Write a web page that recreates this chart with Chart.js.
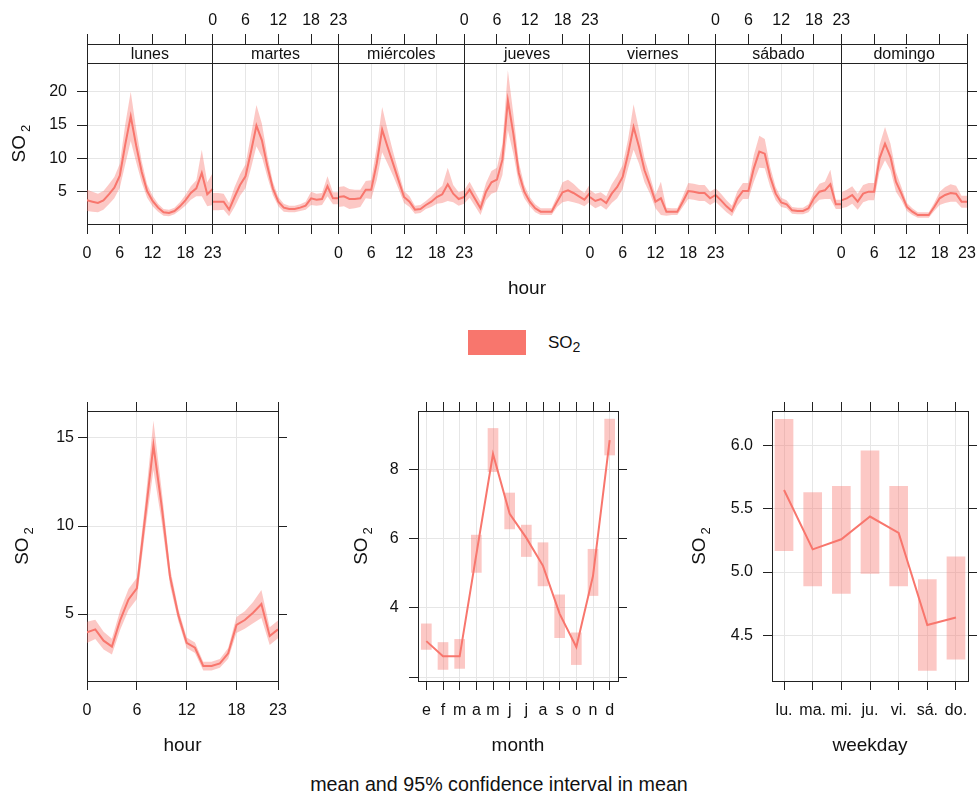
<!DOCTYPE html>
<html lang="es">
<head>
<meta charset="utf-8">
<script src="https://cdn.jsdelivr.net/npm/chart.js@4.4.1/dist/chart.umd.min.js"></script>
<style>
    body { margin: 0; background: #fff; width: 978px; height: 794px; position: relative; overflow: hidden;
           font-family: 'Liberation Sans', Arial, sans-serif; color: #111; }
    canvas { position: absolute; }
    #leyenda-caja { position: absolute; left: 468px; top: 330px; width: 58px; height: 25px; background: #F8766D; }
    #leyenda-texto { position: absolute; left: 548px; top: 330px; height: 25px; line-height: 25px; font-size: 17px; }
    #pie { position: absolute; left: 0; width: 998px; top: 773px; text-align: center; font-size: 19.7px; }
</style>
</head>
<body>
<canvas id="grafico-semana" width="978" height="310" style="left:0;top:0"></canvas>
<div id="leyenda-caja"></div>
<div id="leyenda-texto">SO<sub>2</sub></div>
<canvas id="grafico-hora" width="300" height="370" style="left:0;top:390px"></canvas>
<canvas id="grafico-mes" width="320" height="370" style="left:330px;top:390px"></canvas>
<canvas id="grafico-dia" width="308" height="370" style="left:670px;top:390px"></canvas>
<div id="pie">mean and 95% confidence interval in mean</div>

<script>
// valores (media y semiancho del IC 95%)
const dias = ['lunes', 'martes', 'miércoles', 'jueves', 'viernes', 'sábado', 'domingo'];
const horas = [0, 1, 2, 3, 4, 5, 6, 7, 8, 9, 10, 11, 12, 13, 14, 15, 16, 17, 18, 19, 20, 21, 22, 23];
const marcasHora = [0, 6, 12, 18, 23];

const lunesMedia = [3.7, 3.5, 3.3, 3.7, 4.6, 5.6, 7.4, 12.1, 16.3, 11.9, 8.0, 5.1, 3.6, 2.6, 1.9, 1.8, 2.1, 2.8, 3.7, 4.8, 5.5, 7.8, 4.6, 5.4];
const lunesIC = [1.6, 1.5, 1.4, 1.4, 1.5, 1.6, 1.8, 3.0, 3.7, 2.5, 1.6, 1.0, 0.8, 0.6, 0.5, 0.5, 0.5, 0.6, 0.8, 1.0, 1.2, 3.5, 1.8, 2.4];
const martesMedia = [3.5, 3.5, 3.5, 2.3, 4.2, 6.0, 7.3, 11.0, 14.9, 12.7, 8.8, 5.5, 3.5, 2.6, 2.4, 2.4, 2.6, 2.9, 4.0, 3.8, 3.9, 5.8, 4.0, 4.0];
const martesIC = [1.3, 1.3, 1.2, 1.0, 1.5, 1.6, 1.8, 2.5, 3.1, 2.5, 1.6, 1.0, 0.7, 0.6, 0.5, 0.5, 0.5, 0.6, 1.0, 0.9, 0.9, 1.5, 0.9, 0.9];
const miercolesMedia = [4.2, 4.3, 3.9, 3.9, 4.0, 5.3, 5.3, 9.2, 14.3, 11.7, 9.2, 6.7, 4.2, 3.5, 2.3, 2.4, 3.0, 3.5, 4.2, 4.6, 6.1, 4.7, 3.9, 4.2];
const miercolesIC = [1.5, 1.5, 1.5, 1.4, 1.3, 1.3, 1.4, 2.5, 3.4, 2.5, 1.8, 1.3, 0.9, 0.8, 0.6, 0.6, 0.6, 0.8, 1.0, 1.3, 2.5, 1.3, 1.0, 1.0];
const juevesMedia = [4.2, 5.3, 3.9, 2.5, 5.0, 6.4, 6.8, 9.8, 18.7, 13.7, 7.8, 5.0, 3.5, 2.5, 2.0, 2.0, 2.0, 3.5, 4.9, 5.2, 4.8, 4.3, 3.8, 4.8];
const juevesIC = [1.0, 1.2, 1.1, 1.0, 1.3, 1.7, 1.8, 2.3, 4.5, 3.0, 1.6, 1.0, 0.7, 0.6, 0.5, 0.5, 0.5, 0.8, 1.5, 1.6, 1.4, 1.1, 1.0, 1.3];
const viernesMedia = [4.2, 3.6, 3.9, 3.3, 4.7, 5.7, 7.2, 10.7, 14.7, 11.7, 8.2, 6.0, 3.5, 4.0, 2.0, 2.0, 2.0, 3.5, 5.1, 5.0, 4.8, 4.8, 4.0, 4.5];
const viernesIC = [1.1, 1.1, 1.0, 1.0, 1.4, 1.7, 1.8, 2.2, 3.4, 2.5, 1.8, 1.3, 1.0, 2.5, 0.6, 0.5, 0.5, 0.8, 1.2, 1.2, 1.2, 1.2, 1.0, 1.0];
const sabadoMedia = [4.5, 3.7, 2.8, 2.1, 4.0, 5.1, 5.1, 8.5, 11.0, 10.7, 7.2, 4.7, 3.4, 3.1, 2.2, 2.1, 2.1, 2.5, 4.0, 5.0, 5.2, 6.1, 3.1, 3.1];
const sabadoIC = [1.0, 1.0, 0.9, 0.8, 1.1, 1.2, 1.2, 2.0, 2.4, 2.2, 1.5, 1.0, 0.7, 0.6, 0.5, 0.5, 0.5, 0.6, 1.0, 1.2, 1.3, 2.2, 0.7, 0.7];
const domingoMedia = [3.7, 4.0, 4.5, 3.5, 4.7, 5.0, 5.0, 10.0, 12.2, 10.2, 6.5, 4.7, 2.7, 2.0, 1.5, 1.5, 1.5, 2.7, 4.0, 4.5, 4.8, 4.7, 3.5, 3.5];
const domingoIC = [1.2, 1.3, 1.3, 1.2, 1.3, 1.3, 1.3, 2.0, 2.5, 2.0, 1.5, 1.0, 0.6, 0.5, 0.4, 0.4, 0.4, 0.6, 1.0, 1.2, 1.3, 1.2, 0.9, 0.9];

const horaMedia = [3.96, 4.13, 3.49, 3.15, 4.66, 5.83, 6.46, 10.5, 14.58, 11.1, 7.12, 4.94, 3.37, 3.09, 2.05, 2.05, 2.2, 2.77, 4.38, 4.66, 5.08, 5.57, 3.75, 4.13];
const horaIC = [0.6, 0.55, 0.5, 0.45, 0.55, 0.6, 0.6, 0.8, 1.4, 0.9, 0.5, 0.35, 0.3, 0.3, 0.25, 0.25, 0.25, 0.3, 0.45, 0.5, 0.6, 0.8, 0.5, 0.5];

const meses = ['e', 'f', 'm', 'a', 'm', 'j', 'j', 'a', 's', 'o', 'n', 'd'];
const mesMedia = [3.04, 2.6, 2.6, 5.55, 8.46, 6.73, 6.03, 5.22, 3.83, 2.87, 4.93, 8.86];
const mesBajo = [2.80, 2.22, 2.25, 5.03, 7.95, 6.29, 5.49, 4.64, 3.14, 2.36, 4.36, 8.43];
const mesAlto = [3.54, 3.00, 3.09, 6.11, 9.20, 7.33, 6.40, 5.89, 4.38, 3.28, 5.70, 9.47];

const diasCortos = ['lu.', 'ma.', 'mi.', 'ju.', 'vi.', 'sá.', 'do.'];
const diaMedia = [5.65, 5.18, 5.26, 5.44, 5.31, 4.58, 4.64];
const diaBajo = [5.17, 4.89, 4.83, 4.99, 4.89, 4.22, 4.31];
const diaAlto = [6.21, 5.63, 5.68, 5.96, 5.68, 4.94, 5.12];

const mediasPorDia = [lunesMedia, martesMedia, miercolesMedia, juevesMedia, viernesMedia, sabadoMedia, domingoMedia];
const icPorDia = [lunesIC, martesIC, miercolesIC, juevesIC, viernesIC, sabadoIC, domingoIC];

const familia = "'Liberation Sans', Arial, sans-serif";
const colorLinea = '#F8766D';
const colorBanda = 'rgba(248, 118, 109, 0.4)';
const colorCaja = '#222';
const colorRejilla = '#e6e6e6';
const transparente = 'rgba(0,0,0,0)';
const techoPanel = 24.26;

Chart.defaults.font.family = familia;
Chart.defaults.font.size = 16;
Chart.defaults.color = '#111';

const alinear = p => Math.round(p - 0.5) + 0.5;

const eje = ({ pos, tam, min, max, valores, etiqueta = v => String(v), largo = 9, relleno = 10,
               rejilla = false, colorGrid = colorRejilla, titulo = null, tituloRelleno = 0, oculto = false }) => ({
    type: 'linear', position: pos, min, max, offset: false,
    afterFit: s => {
        if (s.isHorizontal()) s.height = tam; else s.width = tam;
        s.paddingLeft = 0; s.paddingRight = 0; s.paddingTop = 0; s.paddingBottom = 0;
    },
    afterBuildTicks: s => { s.ticks = valores.map(v => ({ value: v })); },
    ticks: { autoSkip: false, maxRotation: 0, minRotation: 0, padding: relleno,
             color: oculto ? transparente : '#111', callback: etiqueta },
    grid: { drawOnChartArea: rejilla, color: colorGrid, lineWidth: 1, drawTicks: true,
            tickLength: largo, tickColor: colorCaja, tickWidth: 1, offset: false },
    border: { display: true, color: colorCaja, width: 1 },
    title: titulo ? {
        display: true, text: titulo, color: '#111', font: { size: 19 },
        padding: { top: 0, bottom: tituloRelleno }
    } : { display: false }
});

// titulo del eje y: "SO" con el 2 en subindice, girado
const tituloSO2 = (baseX, techo) => ({
    id: 'tituloSO2',
    afterDraw(chart) {
        const { ctx, chartArea: a, scales: { y } } = chart;
        const arriba = techo === undefined ? a.top : y.getPixelForValue(techo);
        ctx.save();
        ctx.fillStyle = '#111';
        ctx.translate(baseX, (arriba + a.bottom) / 2);
        ctx.rotate(-Math.PI / 2);
        ctx.textAlign = 'left';
        ctx.textBaseline = 'alphabetic';
        ctx.font = `19px ${familia}`;
        const w1 = ctx.measureText('SO').width;
        ctx.font = `13px ${familia}`;
        const w2 = ctx.measureText('2').width;
        const x0 = -(w1 + 3 + w2) / 2;
        ctx.font = `19px ${familia}`;
        ctx.fillText('SO', x0, 0);
        ctx.font = `13px ${familia}`;
        ctx.fillText('2', x0 + w1 + 3, 5);
        ctx.restore();
    }
});

const base = {
    responsive: false, animation: false, devicePixelRatio: 1, events: [],
    layout: { padding: 0 },
    plugins: { legend: { display: false }, tooltip: { enabled: false } }
};

// ---------- panel superior: hora por dia de la semana ----------
const valoresSemana = [];
dias.forEach((_, d) => marcasHora.forEach(h => {
    const v = d * 23 + h;
    if (!valoresSemana.includes(v)) valoresSemana.push(v);
}));
const etiquetaSemana = pares => v => {
    for (let d = 0; d < dias.length; d++) {
        if ((d % 2 === 0) === pares && v >= d * 23 && v <= d * 23 + 23) return String(v - d * 23);
    }
    return '';
};

const lineas = [], bandas = [];
mediasPorDia.forEach((media, d) => {
    const ic = icPorDia[d];
    lineas.push({ data: media.map((v, i) => ({ x: d * 23 + horas[i], y: v })),
        borderColor: colorLinea, borderWidth: 2, pointRadius: 0, fill: false });
    bandas.push({ data: media.map((v, i) => ({ x: d * 23 + horas[i], y: v + ic[i] })),
        borderColor: transparente, borderWidth: 0, pointRadius: 0, backgroundColor: colorBanda, fill: '+1' });
    bandas.push({ data: media.map((v, i) => ({ x: d * 23 + horas[i], y: v - ic[i] })),
        borderColor: transparente, borderWidth: 0, pointRadius: 0, fill: false });
});

const tiras = {
    id: 'tiras',
    afterDraw(chart) {
        const { ctx, chartArea: a, scales: { x, y } } = chart;
        const yTira = alinear(y.getPixelForValue(techoPanel));
        const arriba = alinear(a.top);
        ctx.save();
        ctx.fillStyle = '#fff';
        ctx.fillRect(a.left + 1, arriba + 0.5, a.right - a.left - 2, yTira - arriba - 1);
        ctx.strokeStyle = colorCaja;
        ctx.lineWidth = 1;
        ctx.beginPath();
        ctx.moveTo(a.left, yTira); ctx.lineTo(a.right, yTira);
        for (let d = 1; d < dias.length; d++) {
            const px = alinear(x.getPixelForValue(d * 23));
            ctx.moveTo(px, a.top); ctx.lineTo(px, a.bottom);
        }
        ctx.stroke();
        ctx.fillStyle = '#111';
        ctx.font = `16px ${familia}`;
        ctx.textAlign = 'center';
        ctx.textBaseline = 'middle';
        dias.forEach((nombre, d) => {
            const cx = (x.getPixelForValue(d * 23) + x.getPixelForValue(d * 23 + 23)) / 2;
            ctx.fillText(nombre, cx, (arriba + yTira) / 2 + 1);
        });
        ctx.restore();
    }
};

new Chart(document.getElementById('grafico-semana'), {
    type: 'line',
    data: { datasets: [...lineas, ...bandas] },
    options: {
        ...base,
        scales: {
            x: eje({ pos: 'bottom', tam: 86, min: 0, max: 161, valores: valoresSemana, etiqueta: etiquetaSemana(true),
                     largo: 10, relleno: 10, rejilla: true, titulo: 'hour', tituloRelleno: 9.6,
                     colorGrid: c => (c.tick && c.tick.value % 23 === 0) ? transparente : colorRejilla }),
            x2: eje({ pos: 'top', tam: 44, min: 0, max: 161, valores: valoresSemana, etiqueta: etiquetaSemana(false),
                      largo: 10, relleno: 4 }),
            y: eje({ pos: 'left', tam: 87, min: 0.15, max: 27.15, valores: [5, 10, 15, 20], largo: 10, relleno: 10, rejilla: true }),
            y2: eje({ pos: 'right', tam: 11, min: 0.15, max: 27.15, valores: [5, 10, 15, 20], largo: 10, oculto: true })
        }
    },
    plugins: [tiras, tituloSO2(25, techoPanel)]
});

// ---------- abajo: hora ----------
new Chart(document.getElementById('grafico-hora'), {
    type: 'line',
    data: {
        datasets: [
            { data: horaMedia.map((v, i) => ({ x: horas[i], y: v })), borderColor: colorLinea, borderWidth: 2, pointRadius: 0, fill: false },
            { data: horaMedia.map((v, i) => ({ x: horas[i], y: v + horaIC[i] })), borderColor: transparente, borderWidth: 0,
              pointRadius: 0, backgroundColor: colorBanda, fill: '+1' },
            { data: horaMedia.map((v, i) => ({ x: horas[i], y: v - horaIC[i] })), borderColor: transparente, borderWidth: 0,
              pointRadius: 0, fill: false }
        ]
    },
    options: {
        ...base,
        scales: {
            x: eje({ pos: 'bottom', tam: 79, min: 0, max: 23, valores: marcasHora, relleno: 11.4, rejilla: true,
                     titulo: 'hour', tituloRelleno: 2.6 }),
            x2: eje({ pos: 'top', tam: 21, min: 0, max: 23, valores: marcasHora, oculto: true }),
            y: eje({ pos: 'left', tam: 87, min: 1.2, max: 16.53, valores: [5, 10, 15], relleno: 4, rejilla: true }),
            y2: eje({ pos: 'right', tam: 22, min: 1.2, max: 16.53, valores: [5, 10, 15], oculto: true })
        }
    },
    plugins: [tituloSO2(27.7)]
});

// ---------- abajo: mes ----------
const numMeses = meses.map((_, i) => i + 1);
new Chart(document.getElementById('grafico-mes'), {
    type: 'bar',
    data: {
        datasets: [
            { type: 'line', order: 0, data: mesMedia.map((v, i) => ({ x: numMeses[i], y: v })),
              borderColor: colorLinea, borderWidth: 2, pointRadius: 0, fill: false },
            { type: 'bar', order: 1, data: mesMedia.map((_, i) => ({ x: numMeses[i], y: [mesBajo[i], mesAlto[i]] })),
              backgroundColor: colorBanda, borderWidth: 0, barThickness: 10, grouped: false }
        ]
    },
    options: {
        ...base,
        scales: {
            x: eje({ pos: 'bottom', tam: 79, min: 0.5, max: 12.5, valores: numMeses, etiqueta: v => meses[v - 1],
                     relleno: 11.4, rejilla: true, titulo: 'month', tituloRelleno: 2.6 }),
            x2: eje({ pos: 'top', tam: 21, min: 0.5, max: 12.5, valores: numMeses, oculto: true }),
            y: eje({ pos: 'left', tam: 88, min: 1.885, max: 9.705, valores: [2, 4, 6, 8], etiqueta: v => v === 2 ? '' : String(v),
                     relleno: 10.4, rejilla: true }),
            y2: eje({ pos: 'right', tam: 32, min: 1.885, max: 9.705, valores: [2, 4, 6, 8], oculto: true })
        }
    },
    plugins: [tituloSO2(36.7)]
});

// ---------- abajo: dia de la semana ----------
const numDias = diasCortos.map((_, i) => i + 1);
new Chart(document.getElementById('grafico-dia'), {
    type: 'bar',
    data: {
        datasets: [
            { type: 'line', order: 0, data: diaMedia.map((v, i) => ({ x: numDias[i], y: v })),
              borderColor: colorLinea, borderWidth: 2, pointRadius: 0, fill: false },
            { type: 'bar', order: 1, data: diaMedia.map((_, i) => ({ x: numDias[i], y: [diaBajo[i], diaAlto[i]] })),
              backgroundColor: colorBanda, borderWidth: 0, barThickness: 18, grouped: false }
        ]
    },
    options: {
        ...base,
        scales: {
            x: eje({ pos: 'bottom', tam: 79, min: 0.58, max: 7.42, valores: numDias, etiqueta: v => diasCortos[v - 1],
                     relleno: 11.4, rejilla: true, titulo: 'weekday', tituloRelleno: 2.6 }),
            x2: eje({ pos: 'top', tam: 21, min: 0.58, max: 7.42, valores: numDias, oculto: true }),
            y: eje({ pos: 'left', tam: 102, min: 4.137, max: 6.276, valores: [4.5, 5, 5.5, 6], etiqueta: v => v.toFixed(1),
                     relleno: 10, rejilla: true }),
            y2: eje({ pos: 'right', tam: 10, min: 4.137, max: 6.276, valores: [4.5, 5, 5.5, 6], oculto: true })
        }
    },
    plugins: [tituloSO2(35)]
});
</script>
</body>
</html>
